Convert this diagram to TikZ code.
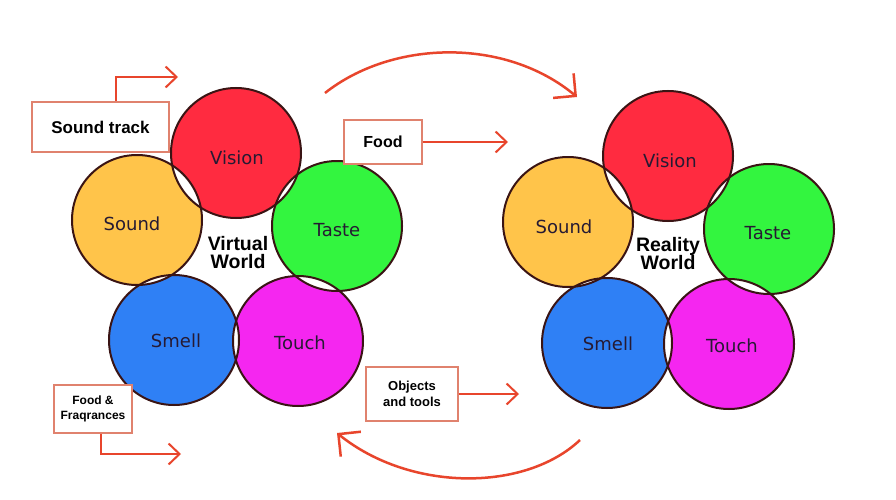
\documentclass[tikz,border=0pt]{standalone}
\usepackage{fontspec}
\setmainfont{Liberation Sans}
\newfontfamily\labelfont{DejaVu Sans}
\usetikzlibrary{arrows.meta}
\definecolor{cvision}{HTML}{FF2B40}
\definecolor{csound}{HTML}{FFC44A}
\definecolor{ctaste}{HTML}{33F53F}
\definecolor{csmell}{HTML}{2F80F5}
\definecolor{ctouch}{HTML}{F526F0}
\definecolor{rim}{HTML}{3A1414}
\definecolor{arrowred}{HTML}{E8452C}
\definecolor{boxred}{HTML}{E0826E}
\definecolor{labelink}{HTML}{261A33}
\tikzset{
  x=1pt, y=-1pt,
  rimline/.style={draw=rim, line width=2pt},
  sense/.style={font=\labelfont\fontsize{18}{20}\selectfont, text=labelink},
  worldlabel/.style={font=\bfseries\fontsize{19.5}{22}\selectfont, align=center, text=black},
  tagbox/.style={draw=boxred, line width=1.5pt, fill=white, align=center, font=\bfseries, inner sep=0pt},
  redarrow/.style={draw=arrowred, line width=2pt, -{Straight Barb[length=11pt,width=21pt,line width=2pt]}},
  bigarrow/.style={draw=arrowred, line width=2.5pt, -{Straight Barb[length=16pt,width=32pt,line width=2.5pt]}},
}
\newcommand{\senseset}[5]{%
  % #1 prefix, #2 vision, #3 sound, #4 taste, #5 smell, touch given separately
}
\begin{document}
\begin{tikzpicture}
\useasboundingbox (0,0) rectangle (896,500);
\fill[white] (0,0) rectangle (896,500);

% ---------- circle centers ----------
\coordinate (LV) at (236,153);
\coordinate (LS) at (137,220);
\coordinate (LT) at (337,226);
\coordinate (LM) at (174,340);
\coordinate (LU) at (298,341);
\coordinate (RV) at (668,156);
\coordinate (RS) at (568,222);
\coordinate (RT) at (769,229);
\coordinate (RM) at (607,343);
\coordinate (RU) at (729,344);
\def\rr{65}

% ---------- fills ----------
\foreach \p in {L,R}{
  \fill[cvision] (\p V) circle (\rr);
  \fill[csound] (\p S) circle (\rr);
  \fill[ctaste] (\p T) circle (\rr);
  \fill[csmell] (\p M) circle (\rr);
  \fill[ctouch] (\p U) circle (\rr);
  % white pairwise overlaps
  \foreach \a/\b in {V/S,V/T,S/M,M/U,U/T}{
    \begin{scope}
      \clip (\p\a) circle (\rr);
      \fill[white] (\p\b) circle (\rr);
    \end{scope}
  }
  \foreach \c in {V,S,T,M,U}{
    \draw[rimline] (\p\c) circle (\rr);
  }
}

% ---------- labels ----------
\node[sense] (lvision) at (237,158) {Vision};
\node[sense] (lsound) at (132,224) {Sound};
\node[sense] (ltaste) at (337,230) {Taste};
\node[sense] (lsmell) at (176,341) {Smell};
\node[sense] (ltouch) at (300,343) {Touch};
\node[worldlabel] (vworld) at (238,253) {Virtual\\[-4pt]World};

\node[sense] (rvision) at (670,161) {Vision};
\node[sense] (rsound) at (564,227) {Sound};
\node[sense] (rtaste) at (768,233) {Taste};
\node[sense] (rsmell) at (608,344) {Smell};
\node[sense] (rtouch) at (732,346) {Touch};
\node[worldlabel] (rworld) at (668,254) {Reality\\[-4pt]World};

% ---------- tag boxes ----------
\node[tagbox, minimum width=137pt, minimum height=50pt, font=\bfseries\fontsize{17}{19}\selectfont] (soundtrack) at (100.5,127) {Sound track};
\node[tagbox, minimum width=78pt, minimum height=44pt, font=\bfseries\fontsize{16}{18}\selectfont] (food) at (383,142) {Food};
\node[tagbox, minimum width=92pt, minimum height=54pt, font=\bfseries\fontsize{13}{16}\selectfont] (objects) at (412,394) {Objects\\and tools};
\node[tagbox, minimum width=78pt, minimum height=48pt, font=\bfseries\fontsize{12}{15}\selectfont] (fragr) at (93,409) {Food \&\\Fraqrances};

% ---------- small arrows ----------
\coordinate (stcorner) at (116,77);
\coordinate (sttip) at (178,77);
\draw[redarrow] (soundtrack.north -| stcorner) -- (stcorner) -- (sttip);

\coordinate (foodtip) at (508,142);
\draw[redarrow] (food.east) -- (foodtip);

\coordinate (objtip) at (519,394);
\draw[redarrow] (objects.east) -- (objtip);

\coordinate (frcorner) at (101,454);
\coordinate (frtip) at (181,454);
\draw[redarrow] (fragr.south -| frcorner) -- (frcorner) -- (frtip);

% ---------- big arcs ----------
\coordinate (topstart) at (325,93);
\coordinate (topend) at (577,97);
\draw[bigarrow] (topstart) .. controls (392,40) and (505,37) .. (topend);

\coordinate (botstart) at (580,440);
\coordinate (botend) at (337,433);
\draw[bigarrow] (botstart) .. controls (525,492) and (410,492) .. (botend);

\end{tikzpicture}
\end{document}
